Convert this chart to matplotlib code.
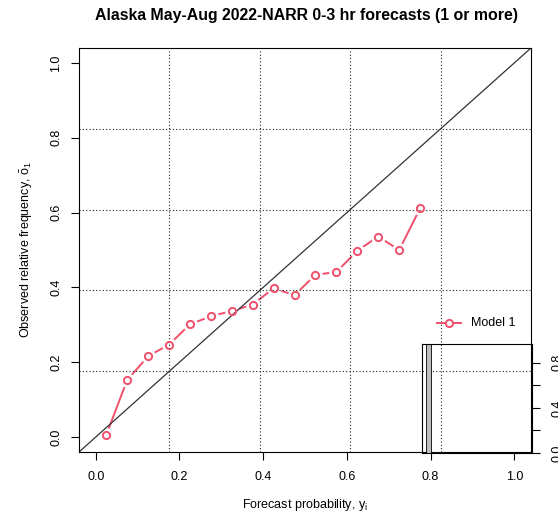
import numpy as np
import matplotlib
matplotlib.use("Agg")
import matplotlib.pyplot as plt

plt.rcParams["font.family"] = ["Liberation Sans", "DejaVu Sans"]
plt.rcParams["mathtext.fontset"] = "custom"
plt.rcParams["mathtext.rm"] = "Liberation Sans"
plt.rcParams["mathtext.it"] = "Liberation Sans"

# Reliability data: bin-centre forecast probability vs observed frequency
forecast_prob = [0.025, 0.075, 0.125, 0.175, 0.225, 0.275, 0.325, 0.375,
                 0.425, 0.475, 0.525, 0.575, 0.625, 0.675, 0.725, 0.775]
observed_freq = [0.005, 0.152, 0.216, 0.247, 0.301, 0.323, 0.337, 0.354,
                 0.398, 0.379, 0.434, 0.441, 0.498, 0.536, 0.500, 0.611]
# Relative frequency of forecasts falling in each bin (sharpness histogram)
bin_share = [0.965, 0.012, 0.006, 0.004, 0.003, 0.0025, 0.002, 0.0015,
             0.001, 0.001, 0.0008, 0.0006, 0.0004, 0.0002, 0.0001, 0.0001]
series_name = "Model 1"
ticks = [0.0, 0.2, 0.4, 0.6, 0.8, 1.0]

red = "#F0506C"
W, H = 558, 515
fig = plt.figure(figsize=(W / 100, H / 100), dpi=100)
ax = fig.add_axes([79 / W, 1 - 452 / H, 452 / W, 404 / H])
lim = (-0.04, 1.04)
ax.set_xlim(lim)
ax.set_ylim(lim)

# dotted grid dividing the plotting region into five equal parts
for k in range(1, 5):
    g = lim[0] + k * (lim[1] - lim[0]) / 5
    ax.axvline(g, color="#222222", lw=0.8, ls=(0, (1, 2)), zorder=2.5)
    ax.axhline(g, color="#222222", lw=0.8, ls=(0, (1, 2)), zorder=2.5)

# perfect-reliability diagonal
ax.plot(lim, lim, color="#333333", lw=0.9, zorder=2.5)

# reliability curve drawn "both" style: line with gaps around the open circles
ax.plot(forecast_prob, observed_freq, color=red, lw=1.4, zorder=2)
ax.plot(forecast_prob, observed_freq, ls="none", marker="o", ms=9.5,
        mfc="white", mec="white", zorder=2.1)
ax.plot(forecast_prob, observed_freq, ls="none", marker="o", ms=5.2,
        mfc="none", mec=red, mew=1.4, zorder=3)

# legend without frame
ax.plot([0.8165, 0.8735], [0.3045, 0.3045], color=red, lw=1.4, zorder=3)
ax.plot([0.845], [0.3045], marker="o", ms=5.2, mfc="white", mec=red,
        mew=1.4, zorder=3)
ax.text(0.897, 0.3045, series_name, fontsize=9, va="center", ha="left")

ax.set_xticks(ticks)
ax.set_yticks(ticks)
ax.set_xticklabels([f"{t:.1f}" for t in ticks], fontsize=9)
ax.set_yticklabels([f"{t:.1f}" for t in ticks], fontsize=9, rotation=90,
                   va="center")
ax.tick_params(direction="out", length=6, width=0.8)
ax.tick_params(axis="x", pad=8)
ax.tick_params(axis="y", pad=6)
for s in ax.spines.values():
    s.set_linewidth(0.8)
ax.set_xlabel("Forecast probability, $\\mathregular{y_i}$", fontsize=9,
              labelpad=10)
ax.set_ylabel("Observed relative frequency, $\\mathregular{\\bar{o}_1}$",
              fontsize=9, labelpad=11)
fig.suptitle("Alaska May-Aug 2022-NARR 0-3 hr forecasts (1 or more)",
             fontsize=11.4, fontweight="bold", x=0.55, y=0.985)

# inset sharpness histogram in the lower-right corner
ins = fig.add_axes([422 / W, 1 - 453 / H, 110 / W, 109 / H])
ins.patch.set_alpha(0)
n = len(bin_share)
left = 0.2 + 1.2 * np.arange(n)
ins.bar(left, bin_share, width=1.0, align="edge", color="#BEBEBE",
        edgecolor="black", lw=0.6)
span = left[-1] + 1.0 - left[0]
ins.set_xlim(left[0] - 0.04 * span, left[-1] + 1.0 + 0.04 * span)
ins.set_ylim(0, max(bin_share))
ins.set_xticks([])
ins.yaxis.tick_right()
ins.set_yticks([0.0, 0.2, 0.4, 0.6, 0.8])
ins.set_yticklabels(["0.0", "", "0.4", "", "0.8"], fontsize=9, rotation=90,
                    va="center")
ins.tick_params(direction="out", length=6, width=0.8, pad=8)
for s in ins.spines.values():
    s.set_linewidth(0.8)

fig.savefig("out.png", dpi=100)
